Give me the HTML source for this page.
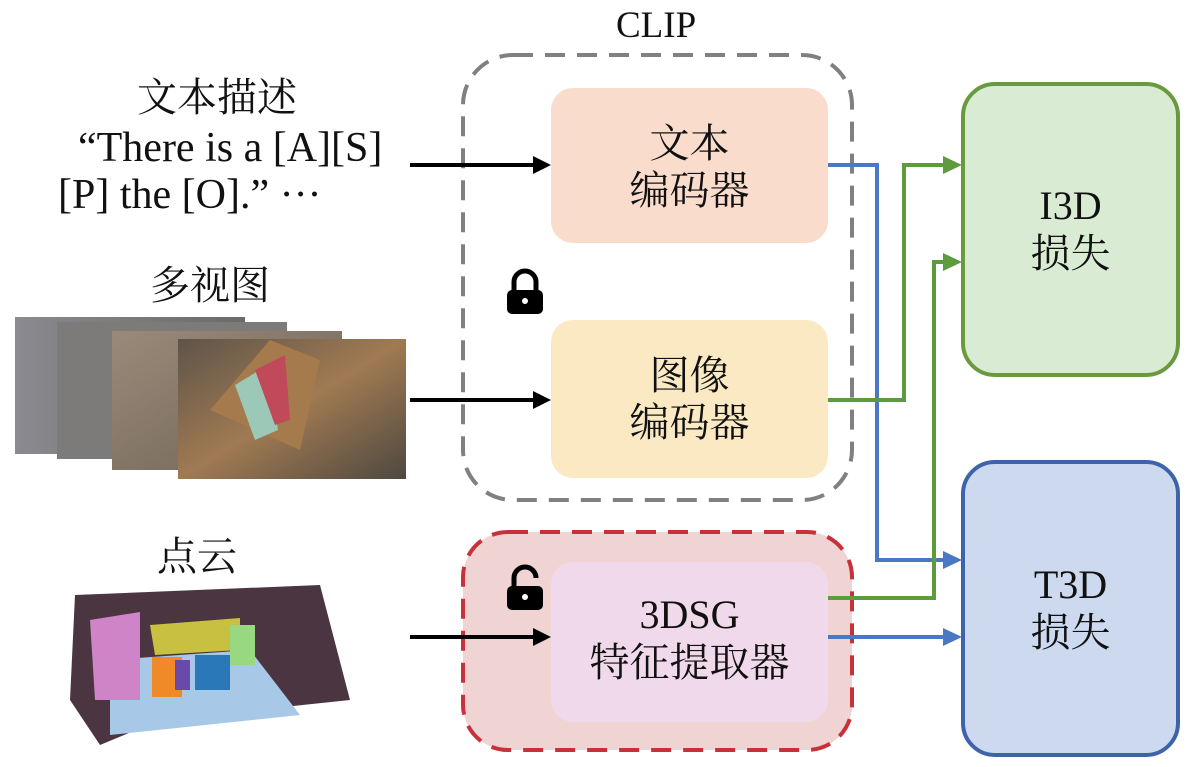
<!DOCTYPE html>
<html><head><meta charset="utf-8"><style>
body{margin:0;background:#fff;width:1194px;height:767px;overflow:hidden;font-family:"Liberation Serif","Noto Serif CJK SC",serif;}
.t{position:absolute;white-space:nowrap;color:#111;}
</style></head><body>
<svg width="1194" height="767" style="position:absolute;left:0;top:0">
<defs>
<linearGradient id="g1" x1="0" x2="1"><stop offset="0" stop-color="#8a8a90"/><stop offset="1" stop-color="#6d6a66"/></linearGradient>
<linearGradient id="g2" x1="0" x2="1" y1="0" y2="1"><stop offset="0" stop-color="#9a8a78"/><stop offset="1" stop-color="#6e6256"/></linearGradient>
<linearGradient id="g3" x1="0" x2="1" y1="0" y2="1"><stop offset="0" stop-color="#5e544a"/><stop offset="0.5" stop-color="#a07a52"/><stop offset="1" stop-color="#4e4840"/></linearGradient>
</defs>
<rect x="463" y="55" width="389" height="445" rx="50" fill="none" stroke="#808080" stroke-width="4" stroke-dasharray="20,12"/>
<rect x="551" y="88" width="277" height="155" rx="22" fill="#f9dccb"/>
<rect x="551" y="320" width="277" height="158" rx="22" fill="#fbe9c4"/>
<rect x="463" y="532" width="389" height="218" rx="45" fill="#f0d3d3" stroke="#c8303a" stroke-width="4" stroke-dasharray="20,12"/>
<rect x="551" y="562" width="277" height="160" rx="22" fill="#efd9ea"/>
<rect x="963" y="84" width="215" height="291" rx="32" fill="#d9ecd3" stroke="#6a9a3e" stroke-width="4"/>
<rect x="963" y="462" width="215" height="293" rx="32" fill="#cdd9ef" stroke="#3f63a8" stroke-width="4"/>
<g stroke="#000" stroke-width="4"><line x1="410" y1="165" x2="535" y2="165"/><line x1="410" y1="400" x2="535" y2="400"/><line x1="410" y1="637" x2="535" y2="637"/></g>
<g fill="#000"><path d="M533,156 L551,165 L533,174Z"/><path d="M533,391 L551,400 L533,409Z"/><path d="M533,628 L551,637 L533,646Z"/></g>
<g fill="none" stroke-width="4">
<polyline points="828,165 877,165 877,560 945,560" stroke="#4a78c4"/>
<polyline points="828,637 945,637" stroke="#4a78c4"/>
<polyline points="828,400 904,400 904,165 945,165" stroke="#5e9a3e"/>
<polyline points="828,598 934,598 934,262 945,262" stroke="#5e9a3e"/>
</g>
<g fill="#4a78c4"><path d="M943,551 L962,560 L943,569Z"/><path d="M943,628 L962,637 L943,646Z"/></g>
<g fill="#5e9a3e"><path d="M943,156 L962,165 L943,174Z"/><path d="M943,253 L962,262 L943,271Z"/></g>
<g><path d="M514,292 v-10 a11,11 0 0 1 22,0 v10" fill="none" stroke="#000" stroke-width="5"/><rect x="507" y="290" width="36" height="24" rx="5" fill="#000"/><circle cx="525" cy="301" r="3" fill="#fff"/></g>
<g><path d="M514,588 v-10 a11,11 0 0 1 22,0" fill="none" stroke="#000" stroke-width="5"/><rect x="507" y="586" width="36" height="24" rx="5" fill="#000"/><circle cx="525" cy="597" r="3" fill="#fff"/></g>
<rect x="15" y="317" width="230" height="137" fill="url(#g1)"/>
<rect x="57" y="322" width="230" height="137" fill="#7d7b7a"/>
<rect x="112" y="331" width="230" height="139" fill="url(#g2)"/>
<rect x="178" y="339" width="228" height="140" fill="url(#g3)"/>
<path d="M210,410 L270,340 L320,360 L300,450Z" fill="#a57a4c"/>
<path d="M235,385 L268,365 L278,430 L255,440Z" fill="#9cc8b8"/>
<path d="M255,370 L285,355 L290,420 L275,425Z" fill="#c14a5a"/>
<path d="M75,595 L320,585 L350,700 L160,720 L100,745 L70,700Z" fill="#4a3540"/>
<path d="M110,660 L250,650 L300,715 L110,735Z" fill="#a8c8e8"/>
<path d="M90,620 L140,612 L140,700 L95,700Z" fill="#d084c8"/>
<path d="M150,625 L240,618 L240,650 L155,655Z" fill="#c8c040"/>
<rect x="152" y="657" width="30" height="40" fill="#f08a28"/>
<rect x="195" y="655" width="35" height="35" fill="#2a78b8"/>
<rect x="175" y="660" width="15" height="30" fill="#6a4aa8"/>
<rect x="230" y="625" width="25" height="40" fill="#98d880"/>
</svg>
<div class="t" style="left:616px;top:4px;font-size:37px">CLIP</div>
<div class="t" style="left:137px;top:66px;font-size:40px">文本描述</div>
<div class="t" style="left:78px;top:124px;font-size:42px">“There is a [A][S]</div>
<div class="t" style="left:58px;top:171px;font-size:42px">[P] the [O].” ···</div>
<div class="t" style="left:150px;top:254px;font-size:40px">多视图</div>
<div class="t" style="left:157px;top:525px;font-size:40px">点云</div>
<div class="t" style="left:551px;width:277px;text-align:center;top:120px;font-size:40px;line-height:47px">文本<br>编码器</div>
<div class="t" style="left:551px;width:277px;text-align:center;top:352px;font-size:40px;line-height:47px">图像<br>编码器</div>
<div class="t" style="left:551px;width:277px;text-align:center;top:591px;font-size:40px;line-height:48px">3DSG<br>特征提取器</div>
<div class="t" style="left:963px;width:215px;text-align:center;top:182px;font-size:40px;line-height:48px">I3D<br>损失</div>
<div class="t" style="left:963px;width:215px;text-align:center;top:561px;font-size:40px;line-height:48px">T3D<br>损失</div>
</body></html>
